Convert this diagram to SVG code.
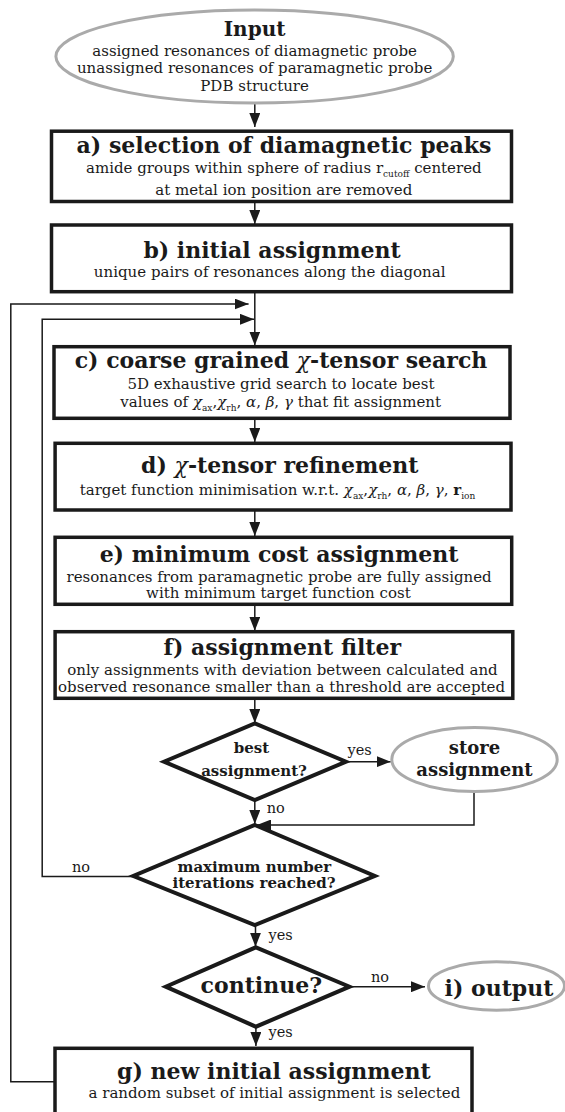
<svg xmlns="http://www.w3.org/2000/svg" width="565" height="1112" viewBox="0 0 565 1112">
<style>
text{font-family:"DejaVu Serif","Liberation Serif",serif;fill:#1a1a1a}
.t{font-weight:bold;font-size:22px;text-anchor:middle}
.s{font-size:15px;text-anchor:middle}
.d{font-weight:bold;font-size:15px;text-anchor:middle}
.l{font-size:14.5px}
.box{fill:#fff;stroke:#1a1a1a;stroke-width:3.5}
.dia{fill:#fff;stroke:#1a1a1a;stroke-width:4;stroke-linejoin:miter}
.ell{fill:#fff;stroke:#aaaaaa;stroke-width:3}
.c{fill:none;stroke:#1a1a1a;stroke-width:1.5}
.sub{font-size:9px}
.i{font-style:italic;font-weight:normal}
</style>
<defs>
<marker id="ah" markerUnits="userSpaceOnUse" markerWidth="14" markerHeight="11" refX="14" refY="5.5" orient="auto">
<path d="M0,0 L14,5.5 L0,11 z" fill="#1a1a1a"/>
</marker>
</defs>
<g id="connectors">
<path class="c" d="M254.8,103 V127" marker-end="url(#ah)"/>
<path class="c" d="M254.8,201.5 V224" marker-end="url(#ah)"/>
<path class="c" d="M254.8,291.7 V345.5" marker-end="url(#ah)"/>
<path class="c" d="M55,1081.7 H10.8 V304 H248.6" marker-end="url(#ah)"/>
<path class="c" d="M133.3,876.5 H42.2 V319.3 H254" marker-end="url(#ah)"/>
<path class="c" d="M254.8,418.3 V442" marker-end="url(#ah)"/>
<path class="c" d="M254.8,510 V536" marker-end="url(#ah)"/>
<path class="c" d="M254.8,604.3 V630.7" marker-end="url(#ah)"/>
<path class="c" d="M254.8,698.3 V723" marker-end="url(#ah)"/>
<path class="c" d="M346,761.7 H390.7" marker-end="url(#ah)"/>
<path class="c" d="M254.8,800 V824" marker-end="url(#ah)"/>
<path class="c" d="M474,791.7 V825 H257" marker-end="url(#ah)"/>
<path class="c" d="M255.5,925 V946.7" marker-end="url(#ah)"/>
<path class="c" d="M349.5,986.7 H425" marker-end="url(#ah)"/>
<path class="c" d="M255.9,1026.7 V1046" marker-end="url(#ah)"/>
<text class="l" x="359.7" y="755" text-anchor="middle">yes</text>
<text class="l" x="266.7" y="812.7">no</text>
<text class="l" x="72" y="871.7">no</text>
<text class="l" x="268.5" y="940">yes</text>
<text class="l" x="371" y="981.7">no</text>
<text class="l" x="268.5" y="1036.7">yes</text>
</g>
<g id="input">
<ellipse class="ell" cx="254.6" cy="56.5" rx="198.7" ry="46.5"/>
<text class="t" x="254.6" y="36" style="font-size:20px">Input</text>
<text class="s" x="254.6" y="56">assigned resonances of diamagnetic probe</text>
<text class="s" x="254.6" y="73.3">unassigned resonances of paramagnetic probe</text>
<text class="s" x="254.6" y="90.7">PDB structure</text>
</g>
<g id="a">
<rect class="box" x="51.5" y="131.2" width="460" height="70.3"/>
<text class="t" x="284" y="153">a) selection of diamagnetic peaks</text>
<text class="s" x="283.8" y="173">amide groups within sphere of radius r<tspan class="sub" dy="4">cutoff</tspan><tspan dy="-4"> centered</tspan></text>
<text class="s" x="283.8" y="195">at metal ion position are removed</text>
</g>
<g id="b">
<rect class="box" x="51.5" y="225" width="460" height="66.7"/>
<text class="t" x="272" y="258">b) initial assignment</text>
<text class="s" x="269.7" y="277.3">unique pairs of resonances along the diagonal</text>
</g>
<g id="c">
<rect class="box" x="54" y="346.7" width="456" height="71.6"/>
<text class="t" x="281" y="367.7">c) coarse grained <tspan class="i">χ</tspan>-tensor search</text>
<text class="s" x="281" y="389">5D exhaustive grid search to locate best</text>
<text class="s" x="280.7" y="406.7">values of <tspan font-style="italic">χ</tspan><tspan class="sub" dy="4">ax</tspan><tspan dy="-4">,</tspan><tspan font-style="italic">χ</tspan><tspan class="sub" dy="4">rh</tspan><tspan dy="-4">, </tspan><tspan font-style="italic">α</tspan>, <tspan font-style="italic">β</tspan>, <tspan font-style="italic">γ</tspan> that fit assignment</text>
</g>
<g id="d">
<rect class="box" x="55.1" y="443.3" width="455.9" height="66.7"/>
<text class="t" x="279.8" y="473.3">d) <tspan class="i">χ</tspan>-tensor refinement</text>
<text class="s" x="277.5" y="495">target function minimisation w.r.t. <tspan font-style="italic">χ</tspan><tspan class="sub" dy="4">ax</tspan><tspan dy="-4">,</tspan><tspan font-style="italic">χ</tspan><tspan class="sub" dy="4">rh</tspan><tspan dy="-4">, </tspan><tspan font-style="italic">α</tspan>, <tspan font-style="italic">β</tspan>, <tspan font-style="italic">γ</tspan>, <tspan font-weight="bold">r</tspan><tspan class="sub" dy="4">ion</tspan></text>
</g>
<g id="e">
<rect class="box" x="55.1" y="537.3" width="456.6" height="67"/>
<text class="t" x="279" y="561.7">e) minimum cost assignment</text>
<text class="s" x="279.1" y="581.7">resonances from paramagnetic probe are fully assigned</text>
<text class="s" x="278.4" y="598.3">with minimum target function cost</text>
</g>
<g id="f">
<rect class="box" x="55.1" y="631.7" width="457.7" height="66.6"/>
<text class="t" x="282.3" y="655">f) assignment filter</text>
<text class="s" x="282.5" y="675">only assignments with deviation between calculated and</text>
<text class="s" x="281.6" y="691.7">observed resonance smaller than a threshold are accepted</text>
</g>
<g id="best">
<polygon class="dia" points="254.8,723.3 346,761.7 254.8,800 164,761.7"/>
<text class="d" x="251.4" y="753.3">best</text>
<text class="d" x="254" y="776">assignment?</text>
</g>
<g id="store">
<ellipse class="ell" cx="474.5" cy="759.5" rx="82.7" ry="32"/>
<text class="t" x="474.5" y="754" style="font-size:18px">store</text>
<text class="t" x="474.5" y="776" style="font-size:18px">assignment</text>
</g>
<g id="maxiter">
<polygon class="dia" points="254.8,825 374.8,876 254.8,925 133.3,876"/>
<text class="d" x="254.4" y="871.7">maximum number</text>
<text class="d" x="254" y="888.3">iterations reached?</text>
</g>
<g id="continue">
<polygon class="dia" points="255.9,947.3 349.5,986.7 255.9,1026.7 165.8,986.7"/>
<text class="t" x="261.3" y="993.3">continue?</text>
</g>
<g id="output">
<ellipse class="ell" cx="496.5" cy="986" rx="68" ry="24.3"/>
<text class="t" x="499" y="996">i) output</text>
</g>
<g id="g">
<rect class="box" x="55" y="1048.3" width="417" height="75"/>
<text class="t" x="273.9" y="1079.3">g) new initial assignment</text>
<text class="s" x="274.4" y="1098.3">a random subset of initial assignment is selected</text>
</g>
</svg>
